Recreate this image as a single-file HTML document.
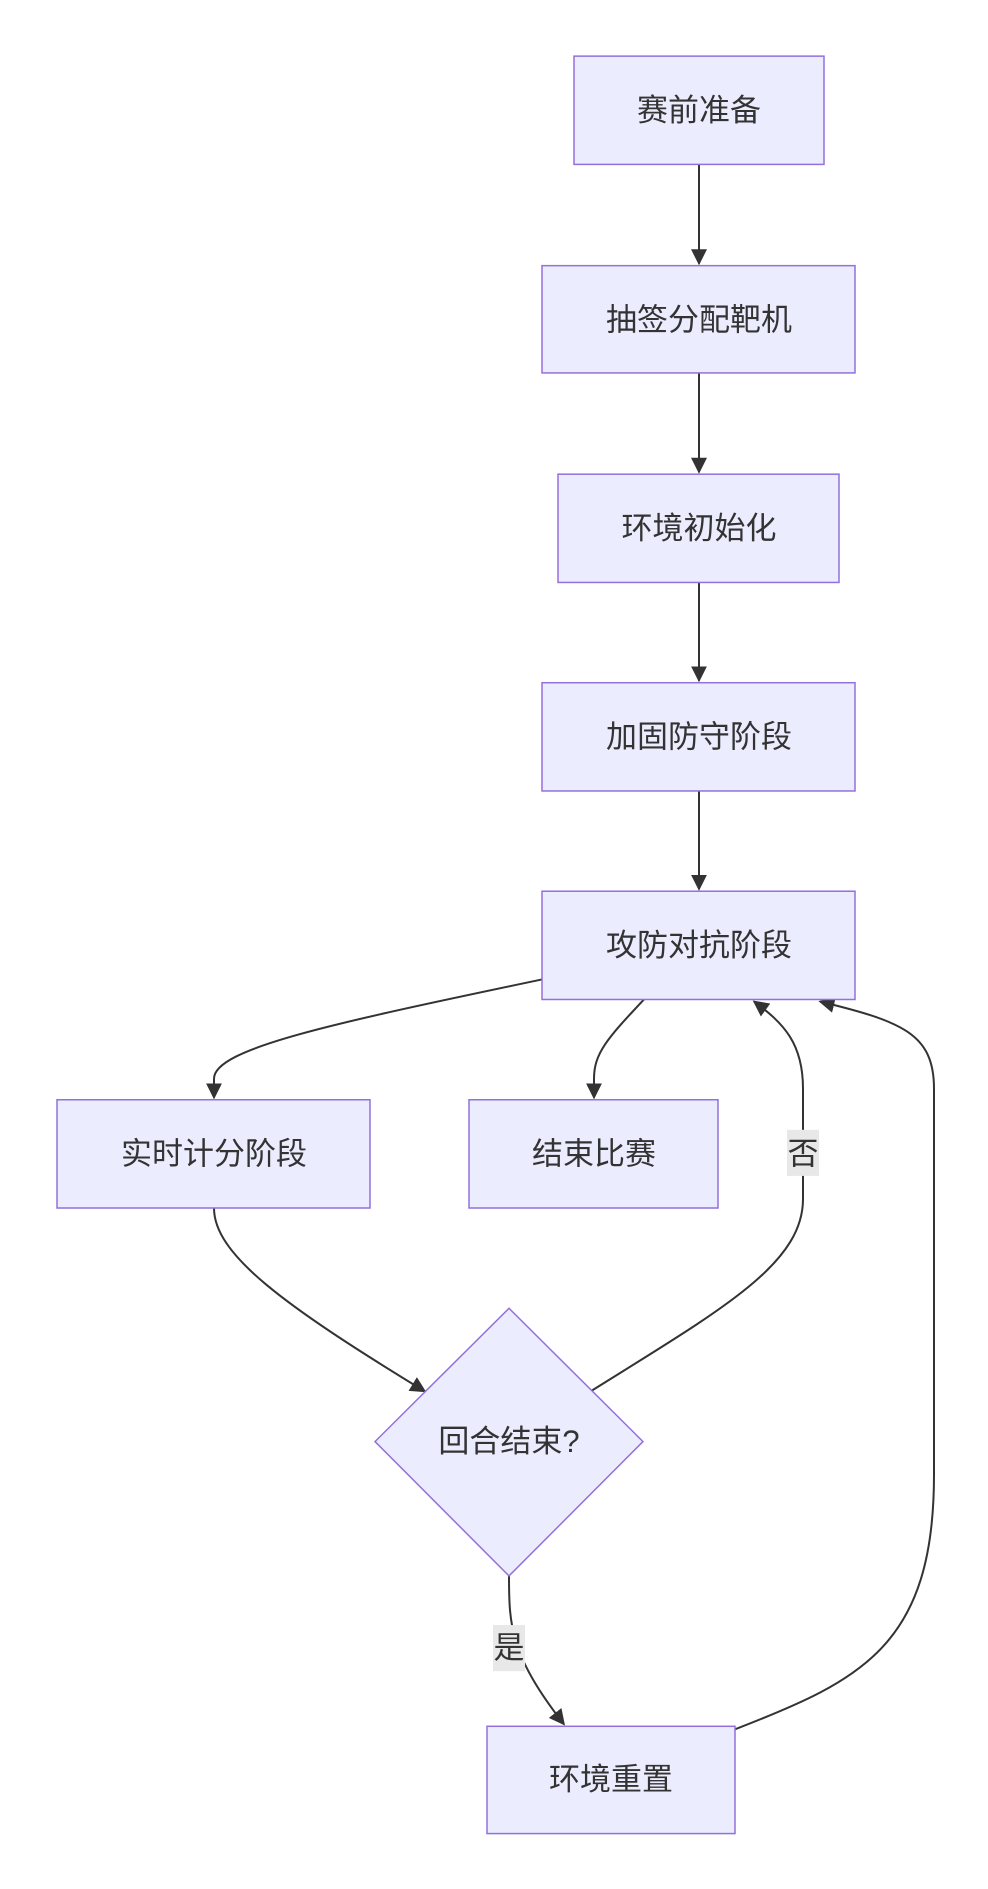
<!DOCTYPE html>
<html><head><meta charset="utf-8"><style>
html,body{margin:0;padding:0;background:#fff;}
svg text{font-family:"Liberation Sans","Noto Sans CJK SC",sans-serif;font-size:31px;fill:#333;}
</style></head><body>
<svg width="988" height="1884" viewBox="0 0 988 1884" xmlns="http://www.w3.org/2000/svg">
<defs><marker id="a" viewBox="0 0 10 10" refX="9" refY="5" markerWidth="8" markerHeight="8" orient="auto"><path d="M0,0L10,5L0,10z" fill="#333"/></marker></defs>
<g transform="translate(2,1) scale(1,1.0025)">
<g fill="none" stroke="#333" stroke-width="2">
<path d="M697,163V262" marker-end="url(#a)"/>
<path d="M697,371V470" marker-end="url(#a)"/>
<path d="M697,580V678" marker-end="url(#a)"/>
<path d="M697,788V886" marker-end="url(#a)"/>
<path d="M540,976 C330,1020 212,1045 212,1075 L212,1094" marker-end="url(#a)"/>
<path d="M642,996 C605,1035 592,1050 592,1075 L592,1094" marker-end="url(#a)"/>
<path d="M212,1204 C212,1250 280,1300 423,1387" marker-end="url(#a)"/>
<path d="M590,1386 C720,1305 801,1260 801,1195 L801,1085 C801,1040 782,1020 752,998" marker-end="url(#a)"/>
<path d="M507,1571 C507,1620 508,1650 562,1719" marker-end="url(#a)"/>
<path d="M733,1724 C860,1675 932,1640 932,1470 L932,1085 C932,1030 900,1018 818,998" marker-end="url(#a)"/>
</g>
<g fill="#ECECFF" stroke="#9370DB" stroke-width="1.5">
<rect x="572" y="55" width="250" height="108"/>
<rect x="540" y="264" width="313" height="107"/>
<rect x="556" y="472" width="281" height="108"/>
<rect x="540" y="680" width="313" height="108"/>
<rect x="540" y="888" width="313" height="108"/>
<rect x="55" y="1096" width="313" height="108"/>
<rect x="467" y="1096" width="249" height="108"/>
<polygon points="507,1304 641,1437 507,1571 373,1437"/>
<rect x="485" y="1721" width="248" height="107"/>
</g>
<rect x="785" y="1126" width="32" height="46" fill="#e8e8e8"/>
<rect x="491" y="1620" width="32" height="46" fill="#e8e8e8"/>
<g text-anchor="middle" dominant-baseline="central">
<text x="697" y="109">赛前准备</text>
<text x="697" y="318">抽签分配靶机</text>
<text x="697" y="526">环境初始化</text>
<text x="697" y="734">加固防守阶段</text>
<text x="697" y="942">攻防对抗阶段</text>
<text x="212" y="1150">实时计分阶段</text>
<text x="592" y="1150">结束比赛</text>
<text x="507" y="1437">回合结束?</text>
<text x="609" y="1774">环境重置</text>
<text x="801" y="1150">否</text>
<text x="507" y="1643">是</text>
</g>
</g>
</svg>
</body></html>
